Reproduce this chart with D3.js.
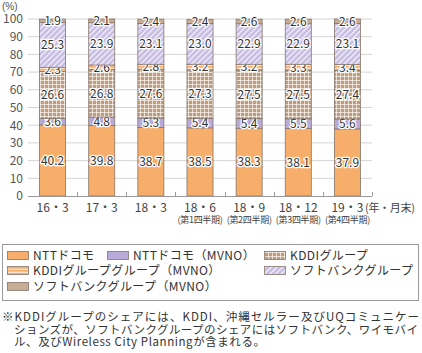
<!DOCTYPE html>
<html>
<head>
<meta charset="utf-8">
<script src="https://cdn.jsdelivr.net/npm/d3@7"></script>
<style>
  html, body { margin: 0; padding: 0; background: #fff; }
  svg { display: block; font-family: "Noto Sans CJK JP", "Noto Sans", sans-serif; }
  .seg-label { font-size: 12px; fill: #333; stroke: #fff; stroke-width: 2.5px; paint-order: stroke; stroke-linejoin: round; }
</style>
</head>
<body>
<div id="chart"></div>
<script>
// data
const periods = ['16・3', '17・3', '18・3', '18・6', '18・9', '18・12', '19・3'];
const quarters = ['', '', '', '(第1四半期)', '(第2四半期)', '(第3四半期)', '(第4四半期)'];
const seriesNames = ['NTTドコモ', 'NTTドコモ（MVNO）', 'KDDIグループ', 'KDDIグループグループ（MVNO）', 'ソフトバンクグループ', 'ソフトバンクグループ（MVNO）'];
const docomo = [40.2, 39.8, 38.7, 38.5, 38.3, 38.1, 37.9];
const docomoMvno = [3.6, 4.8, 5.3, 5.4, 5.4, 5.5, 5.6];
const kddi = [26.6, 26.8, 27.6, 27.3, 27.5, 27.5, 27.4];
const kddiMvno = [2.3, 2.6, 2.8, 3.2, 3.2, 3.3, 3.4];
const softbank = [25.3, 23.9, 23.1, 23.0, 22.9, 22.9, 23.1];
const softbankMvno = [1.9, 2.1, 2.4, 2.4, 2.6, 2.6, 2.6];
const yTicks = [0, 10, 20, 30, 40, 50, 60, 70, 80, 90, 100];
const footnotes = [
  '※KDDIグループのシェアには、KDDI、沖縄セルラー及びUQコミュニケー',
  'ションズが、ソフトバンクグループのシェアにはソフトバンク、ワイモバイ',
  'ル、及びWireless City Planningが含まれる。'
];

const width = 422, height = 353;
const margins = { top: 19, left: 28, right: 50, bottom: 157 };

let $svg, $g, xScale, yScale;

// fills per series (patterns defined below)
const fills = ['#f7ae6a', '#b8aad9', 'url(#p-kddi)', 'url(#p-kddi-mvno)', 'url(#p-sb)', '#c8ad94'];

function init() {
  const rows = periods.map((p, i) => ({
    period: p,
    s0: docomo[i], s1: docomoMvno[i], s2: kddi[i],
    s3: kddiMvno[i], s4: softbank[i], s5: softbankMvno[i]
  }));
  const keys = ['s0', 's1', 's2', 's3', 's4', 's5'];
  const stacked = d3.stack().keys(keys)(rows);

  $svg = d3.select('#chart').append('svg')
    .attr('width', width)
    .attr('height', height);

  defs();

  xScale = d3.scaleBand()
    .domain(periods)
    .range([margins.left, 372])
    .paddingInner(0.47)
    .paddingOuter(0.235);

  yScale = d3.scaleLinear()
    .domain([0, 100])
    .range([196, margins.top]);

  // gridlines
  $svg.append('g')
    .selectAll('line')
    .data(yTicks.filter(d => d > 0))
    .enter()
    .append('line')
    .attr('x1', margins.left)
    .attr('x2', 372)
    .attr('y1', d => yScale(d))
    .attr('y2', d => yScale(d))
    .attr('stroke', '#d4d4d4')
    .attr('stroke-width', 1);

  // y tick labels
  $svg.append('g')
    .selectAll('text')
    .data(yTicks)
    .enter()
    .append('text')
    .attr('x', 23)
    .attr('y', d => yScale(d))
    .attr('dy', '0.36em')
    .attr('text-anchor', 'end')
    .attr('font-size', 12)
    .attr('fill', '#555')
    .text(d => d);

  $svg.append('text')
    .attr('x', 2)
    .attr('y', 9.5)
    .attr('font-size', 10)
    .attr('font-family', '"Liberation Sans", sans-serif')
    .attr('fill', '#555')
    .text('(%)');

  // bars
  $g = $svg.append('g');
  const $layers = $g.selectAll('.layer')
    .data(stacked)
    .enter()
    .append('g')
    .classed('layer', true)
    .attr('fill', (d, i) => fills[i]);

  $layers.selectAll('rect')
    .data(d => d)
    .enter()
    .append('rect')
    .attr('x', d => xScale(d.data.period))
    .attr('width', xScale.bandwidth())
    .attr('y', d => yScale(d[1]))
    .attr('height', d => yScale(d[0]) - yScale(d[1]))
    .attr('stroke', '#85766a')
    .attr('stroke-width', 0.8);

  // x axis
  $svg.append('line')
    .attr('x1', margins.left)
    .attr('x2', 372)
    .attr('y1', 196.5)
    .attr('y2', 196.5)
    .attr('stroke', '#999')
    .attr('stroke-width', 1.2);

  $svg.append('g')
    .selectAll('line')
    .data(periods)
    .enter()
    .append('line')
    .attr('x1', (d, i) => Math.round(margins.left + xScale.step() * (i + 1)) + 0.5)
    .attr('x2', (d, i) => Math.round(margins.left + xScale.step() * (i + 1)) + 0.5)
    .attr('y1', 192)
    .attr('y2', 196)
    .attr('stroke', '#999');

  // segment labels
  $layers.selectAll('text')
    .data(d => d.map(v => ({ v, key: d.key })))
    .enter()
    .append('text')
    .classed('seg-label', true)
    .attr('x', d => xScale(d.v.data.period) + xScale.bandwidth() / 2)
    .attr('y', d => yScale((d.v[0] + d.v[1]) / 2))
    .attr('dy', '0.36em')
    .attr('text-anchor', 'middle')
    .text(d => d.v.data[d.key].toFixed(1));

  // category labels
  $svg.append('g')
    .selectAll('text')
    .data(periods)
    .enter()
    .append('text')
    .attr('x', d => xScale(d) + xScale.bandwidth() / 2)
    .attr('y', 212)
    .attr('text-anchor', 'middle')
    .attr('font-size', 12)
    .attr('fill', '#444')
    .text(d => d);

  $svg.append('g')
    .selectAll('text')
    .data(quarters)
    .enter()
    .append('text')
    .attr('x', (d, i) => xScale(periods[i]) + xScale.bandwidth() / 2)
    .attr('y', 223)
    .attr('text-anchor', 'middle')
    .attr('font-size', 9)
    .attr('letter-spacing', -0.3)
    .attr('fill', '#444')
    .text(d => d);

  $svg.append('text')
    .attr('x', 365)
    .attr('y', 212)
    .attr('font-size', 11)
    .attr('letter-spacing', -0.3)
    .attr('fill', '#444')
    .text('(年・月末)');

  legend();
  notes();
}

function defs() {
  const $defs = $svg.append('defs');

  const $kddi = $defs.append('pattern')
    .attr('id', 'p-kddi')
    .attr('patternUnits', 'userSpaceOnUse')
    .attr('width', 4)
    .attr('height', 4);
  $kddi.append('rect').attr('width', 4).attr('height', 4).attr('fill', '#c09c7c');
  $kddi.append('rect').attr('x', 0).attr('width', 1).attr('height', 4).attr('fill', '#fff').attr('opacity', 0.65);
  $kddi.append('rect').attr('y', 0).attr('width', 4).attr('height', 1).attr('fill', '#fff').attr('opacity', 0.65);

  const $kddiMvno = $defs.append('pattern')
    .attr('id', 'p-kddi-mvno')
    .attr('patternUnits', 'userSpaceOnUse')
    .attr('width', 4)
    .attr('height', 3);
  $kddiMvno.append('rect').attr('width', 4).attr('height', 3).attr('fill', '#fde3c8');
  $kddiMvno.append('rect').attr('width', 4).attr('height', 1.6).attr('fill', '#f6ad6c');

  const $sb = $defs.append('pattern')
    .attr('id', 'p-sb')
    .attr('patternUnits', 'userSpaceOnUse')
    .attr('width', 4)
    .attr('height', 4)
    .attr('patternTransform', 'rotate(45)');
  $sb.append('rect').attr('width', 4).attr('height', 4).attr('fill', '#c6bce3');
  $sb.append('rect').attr('width', 1.3).attr('height', 4).attr('fill', '#fff').attr('opacity', 0.8);
}

function legend() {
  const $lg = $svg.append('g');
  $lg.append('rect')
    .attr('x', 2.5)
    .attr('y', 244.5)
    .attr('width', 416)
    .attr('height', 56)
    .attr('fill', 'none')
    .attr('stroke', '#999');

  const items = [
    { i: 0, x: 7, y: 251 },
    { i: 1, x: 107, y: 251 },
    { i: 2, x: 264, y: 251 },
    { i: 3, x: 7, y: 266 },
    { i: 4, x: 264, y: 266 },
    { i: 5, x: 7, y: 282 }
  ];

  const $items = $lg.selectAll('.item')
    .data(items)
    .enter()
    .append('g')
    .classed('item', true);

  $items.append('rect')
    .attr('x', d => d.x + 0.5)
    .attr('y', d => d.y + 0.5)
    .attr('width', 21)
    .attr('height', 8)
    .attr('fill', d => fills[d.i])
    .attr('stroke', '#85766a')
    .attr('stroke-width', 0.8);

  $items.append('text')
    .attr('x', d => d.x + 26)
    .attr('y', d => d.y + 4.5)
    .attr('dy', '0.36em')
    .attr('font-size', 12)
    .attr('letter-spacing', 0.4)
    .attr('fill', '#333')
    .text(d => seriesNames[d.i]);
}

function notes() {
  const lengths = [417, 404, 251];
  $svg.append('g')
    .selectAll('text')
    .data(footnotes)
    .enter()
    .append('text')
    .attr('x', (d, i) => i === 0 ? 2 : 14)
    .attr('y', (d, i) => 321 + i * 12.5)
    .attr('font-size', 11.5)
    .attr('textLength', (d, i) => lengths[i])
    .attr('lengthAdjust', 'spacing')
    .attr('fill', '#333')
    .text(d => d);
}

init();
</script>
</body>
</html>
